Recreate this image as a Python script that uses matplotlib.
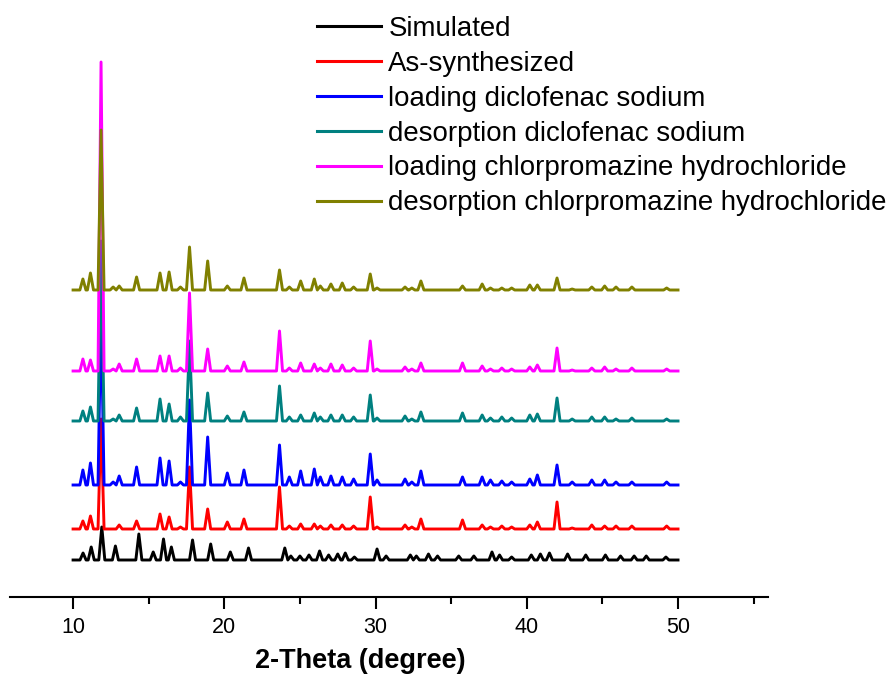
import numpy as np
import matplotlib
matplotlib.use("Agg")
import matplotlib.pyplot as plt
from matplotlib.ticker import MultipleLocator

plt.rcParams['font.family'] = ['Liberation Sans', 'DejaVu Sans']

labels = ["Simulated", "As-synthesized", "loading diclofenac sodium",
          "desorption diclofenac sodium", "loading chlorpromazine hydrochloride",
          "desorption chlorpromazine hydrochloride"]
colors = ["#000000", "#ff0000", "#0000ff", "#008080", "#ff00ff", "#808000"]

# vertical stacking offsets (a.u.)
offsets = [37, 68, 112, 176, 226, 307]

# simulated pattern: peak positions (2-theta) and heights
sim_pos = [10.66, 11.2, 11.9, 12.8, 14.35, 15.3, 15.98, 16.5, 17.9, 19.1, 20.4,
           21.6, 24.0, 24.4, 25.0, 25.6, 26.3, 26.9, 27.5, 28.0, 28.6, 30.1, 30.7,
           32.3, 32.7, 33.5, 34.1, 35.5, 36.5, 37.7, 38.2, 39.0, 40.3, 40.9, 41.5,
           42.7, 43.9, 45.2, 46.2, 47.1, 47.9, 49.2]
sim_h = [7, 13, 33, 14, 26, 8, 21, 13, 20, 16, 8,
         12, 12, 4, 4, 5, 9, 5, 6, 7, 3, 11, 4,
         5, 4, 6, 4, 4, 4, 8, 5, 3, 5, 6, 7,
         6, 5, 5, 4, 4, 4, 3]

# experimental patterns share the same reflections
exp_pos = [10.65, 11.15, 11.85, 12.65, 13.05, 14.2, 15.75, 16.35, 17.1, 17.7,
           18.9, 20.2, 21.3, 23.65, 24.3, 25.05, 25.95, 26.35, 27.05, 27.8,
           28.55, 29.65, 30.1, 31.95, 32.4, 33.0, 35.75, 37.05, 37.6, 38.35,
           39.0, 40.2, 40.7, 42.0, 43.0, 44.3, 45.15, 45.9, 46.95, 49.25]
as_syn_h = [8, 13, 110, 0, 4, 8, 15, 12, 2, 62,
            20, 7, 10, 42, 3, 5, 5, 3, 4, 4,
            3, 32, 2, 4, 2, 10, 9, 4, 2, 3,
            2, 4, 7, 27, 1, 4, 3, 3, 3, 3]
load_dic_h = [15, 22, 180, 3, 9, 18, 27, 24, 3, 85,
              48, 12, 15, 40, 8, 14, 16, 8, 9, 8,
              6, 31, 5, 6, 3, 14, 8, 8, 5, 4,
              3, 6, 10, 20, 3, 5, 5, 3, 3, 3]
des_dic_h = [10, 14, 180, 2, 6, 13, 22, 17, 4, 80,
             28, 5, 9, 35, 4, 6, 8, 4, 6, 6,
             4, 26, 3, 5, 2, 9, 8, 6, 3, 4,
             3, 6, 7, 23, 2, 4, 4, 2, 3, 2]
load_chl_h = [12, 11, 309, 2, 7, 12, 15, 15, 3, 78,
              22, 5, 9, 40, 3, 8, 7, 3, 7, 6,
              3, 30, 2, 4, 2, 8, 8, 5, 2, 3,
              2, 4, 6, 23, 1, 3, 4, 2, 3, 2]
des_chl_h = [11, 17, 160, 3, 4, 13, 17, 18, 3, 43,
             29, 4, 12, 20, 3, 9, 11, 4, 6, 7,
             3, 16, 2, 3, 2, 9, 4, 6, 2, 2,
             2, 5, 5, 12, 1, 3, 4, 3, 3, 2]

x_start, x_end = 10, 50
half_w = 0.2


def pattern(pos, heights, base):
    xs = [x_start]
    ys = [base]
    for p, h in zip(pos, heights):
        if h <= 0:
            continue
        xs += [p - half_w, p, p + half_w]
        ys += [base, base + h, base]
    xs.append(x_end)
    ys.append(base)
    return xs, ys


series = [(sim_pos, sim_h), (exp_pos, as_syn_h), (exp_pos, load_dic_h),
          (exp_pos, des_dic_h), (exp_pos, load_chl_h), (exp_pos, des_chl_h)]

fig = plt.figure(figsize=(8.91, 6.74), dpi=100)
ax = fig.add_axes([10 / 891, 77 / 674, 758 / 891, 577 / 674])

for (pos, h), off, c, lab in zip(series, offsets, colors, labels):
    xs, ys = pattern(pos, h, off)
    ax.plot(xs, ys, color=c, lw=2.1, label=lab)

ax.set_xlim(5.83, 55.95)
ax.set_ylim(0, 577)
ax.xaxis.set_major_locator(MultipleLocator(10))
ax.xaxis.set_minor_locator(MultipleLocator(5))
ax.tick_params(axis='x', which='major', direction='out', length=8.5, width=1.5,
               labelsize=15.5, pad=6)
ax.tick_params(axis='x', which='minor', direction='out', length=5, width=1.5)
ax.set_yticks([])
for s in ['left', 'top', 'right']:
    ax.spines[s].set_visible(False)
ax.spines['bottom'].set_linewidth(1.5)
ax.set_xlabel("2-Theta (degree)", fontsize=19.5, fontweight='bold')
ax.xaxis.set_label_coords((360 - 10) / 758, -51 / 577)

leg = ax.legend(loc='upper left', bbox_to_anchor=(317 / 891, 1 - 16 / 674),
                bbox_transform=fig.transFigure, frameon=False, fontsize=19.9,
                handlelength=2.3, handletextpad=0.28, labelspacing=0.32,
                borderpad=0, borderaxespad=0)
for line in leg.get_lines():
    line.set_linewidth(2.2)

fig.savefig("out.png", dpi=100)
